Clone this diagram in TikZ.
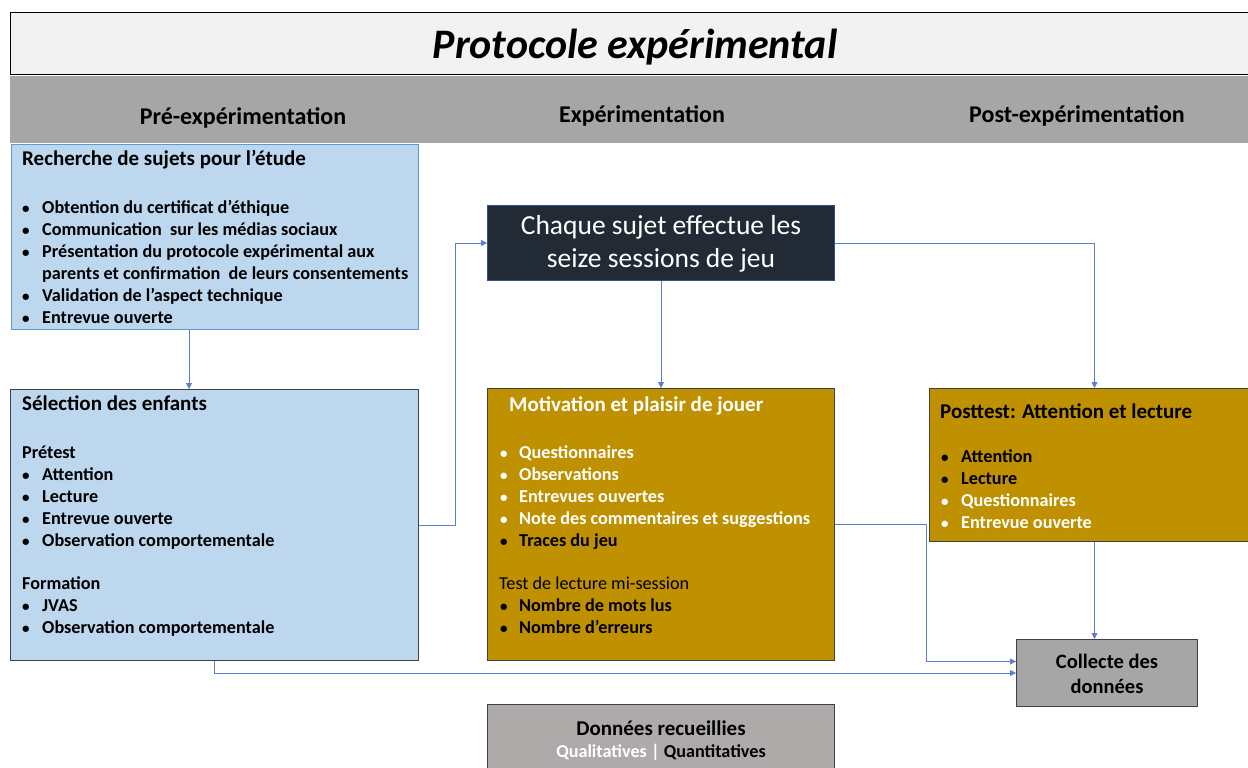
\documentclass[tikz,border=0pt]{standalone}
\usepackage{fontspec}
\setmainfont{Carlito}
\usetikzlibrary{arrows.meta}
\definecolor{titlefill}{HTML}{F2F2F2}
\definecolor{band}{HTML}{A6A6A6}
\definecolor{paleblue}{HTML}{BDD7EE}
\definecolor{blueedge}{HTML}{5B9BD5}
\definecolor{darkedge}{HTML}{404040}
\definecolor{navy}{HTML}{222A35}
\definecolor{navyedge}{HTML}{2F528F}
\definecolor{gold}{HTML}{BF9000}
\definecolor{stone}{HTML}{AEAAAA}
\definecolor{linkblue}{HTML}{5B7FCC}
\newcommand{\dotmark}{{\fontsize{15}{18}\selectfont\bfseries\textbullet}}
\tikzset{
  box/.style={draw=darkedge, line width=1pt, anchor=north west, inner sep=0pt},
  head/.style={font=\fontsize{24}{28}\selectfont\bfseries, inner sep=0pt, anchor=base, yshift=-8pt},
  boxtitle/.style={anchor=base west, inner sep=0pt, yshift=-7pt, font=\fontsize{21}{24}\selectfont\bfseries},
  item/.style={anchor=base west, inner sep=0pt, yshift=-6pt, font=\fontsize{18.2}{22}\selectfont\bfseries},
  bul/.style={anchor=base west, inner sep=0pt, yshift=-6pt},
  plain/.style={anchor=base west, inner sep=0pt, yshift=-6pt, font=\fontsize{18.2}{22}\selectfont},
  link/.style={draw=linkblue, line width=0.8pt},
  arr/.style={link, -{Triangle[width=6pt,length=6pt]}},
}
\begin{document}
\begin{tikzpicture}[x=1pt,y=-1pt]
\useasboundingbox (0,0) rectangle (1248,768);
\clip (0,0) rectangle (1248,768);

% title bar and phase band
\node[box, draw=black, fill=titlefill, minimum width=1260pt, minimum height=62pt] (titlebar) at (10,12) {};
\node[font=\fontsize{42}{46}\selectfont\bfseries\itshape, inner sep=0pt, anchor=base] (title) at (635,59) {Protocole expérimental};
\fill[band] (10,76) rectangle (1260,143);
\draw[white, line width=1pt] (10,76) -- (465,76);
\node[head] (h1) at (243,116) {Pré-expérimentation};
\node[head] (h2) at (642,114) {Expérimentation};
\node[head] (h3) at (1077,114) {Post-expérimentation};

% boxes
\node[box, draw=blueedge, fill=paleblue, minimum width=407pt, minimum height=185pt] (rech) at (11,144) {};
\node[box, fill=paleblue, minimum width=408pt, minimum height=271pt] (sel) at (10,389) {};
\node[box, draw=navyedge, fill=navy, minimum width=347pt, minimum height=75pt] (chaque) at (487,205) {};
\node[box, fill=gold, minimum width=347pt, minimum height=272pt] (mot) at (487,388) {};
\node[box, fill=gold, minimum width=330pt, minimum height=153pt] (post) at (929,388) {};
\node[box, fill=band, minimum width=181pt, minimum height=67pt] (collecte) at (1016,639) {};
\node[box, fill=stone, minimum width=347pt, minimum height=80pt] (donnees) at (487,704) {};

% search for subjects
\node[boxtitle] (rt) at (22,158) {Recherche de sujets pour l’étude};
\foreach \y/\t [count=\i] in {207/Obtention du certificat d’éthique,
  229/Communication\ \ sur les médias sociaux,
  251/Présentation du protocole expérimental aux,
  295/Validation de l’aspect technique,
  317/Entrevue ouverte}{
  \node[bul] (rb\i) at (22,\y) {\dotmark};
  \node[item] (ri\i) at (42,\y) {\t};
}
\node[item] (ri6) at (42,273) {parents et confirmation\ \ de leurs consentements};

% selection of children
\node[boxtitle] (st) at (22,403) {Sélection des enfants};
\node[item] (sp) at (22,452) {Prétest};
\node[item] (sf) at (22,583) {Formation};
\foreach \y/\t [count=\i] in {474/Attention, 496/Lecture, 518/Entrevue ouverte,
  540/Observation comportementale, 605/JVAS, 627/Observation comportementale}{
  \node[bul] (sb\i) at (22,\y) {\dotmark};
  \node[item] (si\i) at (42,\y) {\t};
}

% play sessions
\node[font=\fontsize{27.5}{33}\selectfont, text=white, align=center, inner sep=0pt] (ct) at ([yshift=-1pt]chaque.center) {Chaque sujet effectue les\\seize sessions de jeu};

% motivation and enjoyment
\node[boxtitle, text=white] (mt) at (509,404) {Motivation et plaisir de jouer};
\foreach \y/\c/\t [count=\i] in {452/white/Questionnaires, 474/white/Observations,
  496/white/Entrevues ouvertes, 518/white/Note des commentaires et suggestions,
  540/black/Traces du jeu, 605/black/Nombre de mots lus, 627/black/Nombre d’erreurs}{
  \node[bul, text=\c] (mb\i) at (500,\y) {\dotmark};
  \node[item, text=\c] (mi\i) at (519,\y) {\t};
}
\node[plain] (ml) at (499,583) {Test de lecture mi-session};

% post-test
\node[boxtitle] (pt) at (940,411) {Posttest: Attention et lecture};
\foreach \y/\c/\t [count=\i] in {456/black/Attention, 478/black/Lecture,
  500/white/Questionnaires, 522/white/Entrevue ouverte}{
  \node[bul, text=\c] (pb\i) at (941,\y) {\dotmark};
  \node[item, text=\c] (pi\i) at (961,\y) {\t};
}

% data collection
\node[font=\fontsize{20.5}{25}\selectfont\bfseries, align=center, inner sep=0pt] (cl) at ([yshift=-1pt]collecte.center) {Collecte des\\données};
\node[font=\fontsize{21}{24}\selectfont\bfseries, inner sep=0pt, anchor=base] (dt) at (661,735) {Données recueillies};
\node[font=\fontsize{18.2}{22}\selectfont\bfseries, inner sep=0pt, anchor=base] (dq) at (661,757) {\textcolor{white}{Qualitatives | }Quantitatives};

% connectors
\draw[arr] ([xshift=178pt]rech.south west) -- ([xshift=179pt]sel.north west);
\draw[arr] (sel.east) -- ++(36,0) |- (chaque.west);
\draw[arr] (chaque) -- (mot);
\draw[arr] (chaque.east) -| (post.north);
\draw[arr] (mot.east) -- ++(91,0) |- ([yshift=11.5pt]collecte.west);
\draw[arr] (post.south) -- (post.south |- collecte.north);
\draw[arr] (sel.south) |- (collecte.west);
\end{tikzpicture}
\end{document}
